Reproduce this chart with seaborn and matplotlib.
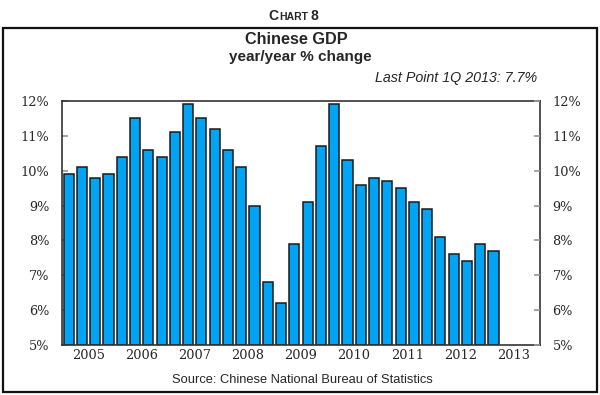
import matplotlib
matplotlib.use("Agg")
import matplotlib.pyplot as plt
import seaborn as sns
import numpy as np
import pandas as pd
from matplotlib.patches import Rectangle

years = ["2005", "2006", "2007", "2008", "2009", "2010", "2011", "2012", "2013"]
quarters = ["Q1", "Q2", "Q3", "Q4"]
gdp_yoy = [9.9, 10.1, 9.8, 9.9,
           10.4, 11.5, 10.6, 10.4,
           11.1, 11.9, 11.5, 11.2,
           10.6, 10.1, 9.0, 6.8,
           6.2, 7.9, 9.1, 10.7,
           11.9, 10.3, 9.6, 9.8,
           9.7, 9.5, 9.1, 8.9,
           8.1, 7.6, 7.4, 7.9,
           7.7]
ytick_vals = [5, 6, 7, 8, 9, 10, 11, 12]
ytick_labels = ["5%", "6%", "7%", "8%", "9%", "10%", "11%", "12%"]

labels = [f"{y} {q}" for y in years for q in quarters]
vals = gdp_yoy + [np.nan] * (len(labels) - len(gdp_yoy))
df = pd.DataFrame({"quarter": labels, "gdp": vals})

sns.set_theme(style="white")
plt.rcParams["font.family"] = ["DejaVu Sans"]

fig = plt.figure(figsize=(6.0, 3.95), dpi=100)
ax = fig.add_axes([62/600, 1-345/395, 478/600, 244/395])

sns.barplot(data=df, x="quarter", y="gdp", order=labels, color="#00A4F4",
            saturation=1, width=0.76, edgecolor="#1a1a1a", linewidth=1.1, ax=ax)
for p in ax.patches:
    p.set_y(5)
    p.set_height(p.get_height() - 5 if np.isfinite(p.get_height()) else 0)

ax.set_ylim(5, 12)
ax.set_xlim(-0.5, len(labels) - 0.5)
ax.set_xlabel("")
ax.set_ylabel("")

serif = {"family": "DejaVu Serif", "size": 9.3}
ax.set_yticks(ytick_vals)
ax.set_yticklabels(ytick_labels, fontdict=serif)
ax.set_xticks([1.5 + 4 * i for i in range(len(years))])
ax.set_xticklabels(years, fontdict=serif)
ax.tick_params(axis="x", length=0, pad=3)
ax.set_xticks([3.5 + 4 * i for i in range(len(years) - 1)], minor=True)
ax.tick_params(axis="x", which="minor", direction="in", length=3, color="#777777", width=1.5)
ax.tick_params(axis="y", direction="in", length=4, color="#999999", pad=9, left=True)

for s in ax.spines.values():
    s.set_color("#333333")
    s.set_linewidth(1.2)

ax2 = ax.twinx()
ax2.set_ylim(5, 12)
ax2.set_yticks(ytick_vals)
ax2.set_yticklabels(ytick_labels, fontdict=serif)
ax2.tick_params(axis="y", direction="in", length=4, color="#999999", pad=9, right=True)
for s in ax2.spines.values():
    s.set_visible(False)
ax2.grid(False)
ax.grid(False)

# outer frame
fig.patches.append(Rectangle((3/600, 1-392/395), 594/600, (392-28)/395,
                             transform=fig.transFigure, fill=False,
                             edgecolor="#111111", linewidth=1.6))

# small-caps title
fig.text(268/600, 1-20/395, "C", fontsize=10, fontweight="bold", ha="left", va="baseline",
         family="Liberation Sans")
fig.text(279/600, 1-20/395, "HART", fontsize=7.5, fontweight="bold", ha="left", va="baseline",
         family="Liberation Sans")
fig.text(310/600, 1-20/395, "8", fontsize=10, fontweight="bold", ha="left", va="baseline",
         family="Liberation Sans")

fig.text(296/600, 1-40/395, "Chinese GDP", fontsize=11.7, fontweight="bold",
         ha="center", va="center", family="Liberation Sans")
fig.text(300/600, 1-57/395, "year/year % change", fontsize=11, fontweight="bold",
         ha="center", va="center", family="Liberation Sans")
fig.text(537/600, 1-78/395, "Last Point 1Q 2013: 7.7%", fontsize=10.3, fontstyle="italic",
         ha="right", va="center", family="Liberation Sans")
fig.text(302/600, 1-380/395, "Source: Chinese National Bureau of Statistics", fontsize=9.3,
         ha="center", va="center", family="Liberation Sans")

fig.savefig("out.png", dpi=100)
